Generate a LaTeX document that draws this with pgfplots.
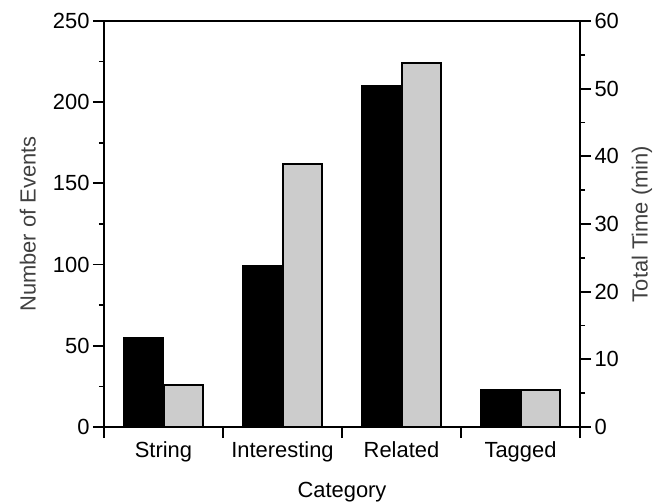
\documentclass[border=0pt]{standalone}
\usepackage{pgfplots}
\pgfplotsset{compat=1.18}
\usepackage{fontspec}
\setmainfont{Liberation Sans}
\definecolor{barGray}{RGB}{204,204,204}
\begin{document}
\begin{tikzpicture}
\path[use as bounding box] (-104bp,-77bp) rectangle (558bp,427bp);
\pgfplotsset{
  common/.style={
    at={(0,0)}, anchor=south west,
    scale only axis, width=476bp, height=406bp,
    xmin=-0.5, xmax=3.5, ymin=0,
    axis line style={line width=2bp},
    tick style={line width=1.8bp, black},
    major tick length=11bp, minor tick length=5bp,
    tick align=outside,
    /pgf/number format/assume math mode=true,
    ticklabel style={font=\fontsize{22}{26}\selectfont},
    label style={font=\fontsize{22}{26}\selectfont},
  }
}
\begin{axis}[common,
  ymax=250, ytick={0,50,...,250}, minor ytick={25,75,...,225},
  xtick={-0.5,0.5,1.5,2.5,3.5},
  x tick label as interval,
  xticklabels={String,Interesting,Related,Tagged},
  xtick pos=bottom, ytick pos=left,
  ylabel={Number of Events},
  xlabel={Category},
  ylabel style={at={(axis description cs:-0.16,0.5)}, anchor=center, text=black!75},
  xlabel style={at={(axis description cs:0.5,0)}, anchor=base, yshift=-70bp},
]
\addplot[ybar, bar width=0.336, bar shift=-0.168, fill=black, draw=black, line width=2bp]
  coordinates {(0,55) (1,99) (2,210) (3,23)};
\end{axis}
\begin{axis}[common,
  ymax=60, ytick={0,10,...,60}, minor ytick={5,15,...,55},
  axis x line=none, axis y line*=right,
  ylabel={Total Time (min)},
  ylabel style={at={(axis description cs:1.13,0.5)}, anchor=center, text=black!75},
]
\addplot[ybar, bar width=0.336, bar shift=0.168, fill=barGray, draw=black, line width=2bp]
  coordinates {(0,6.25) (1,38.8) (2,53.8) (3,5.5)};
\end{axis}
\end{tikzpicture}
\end{document}
